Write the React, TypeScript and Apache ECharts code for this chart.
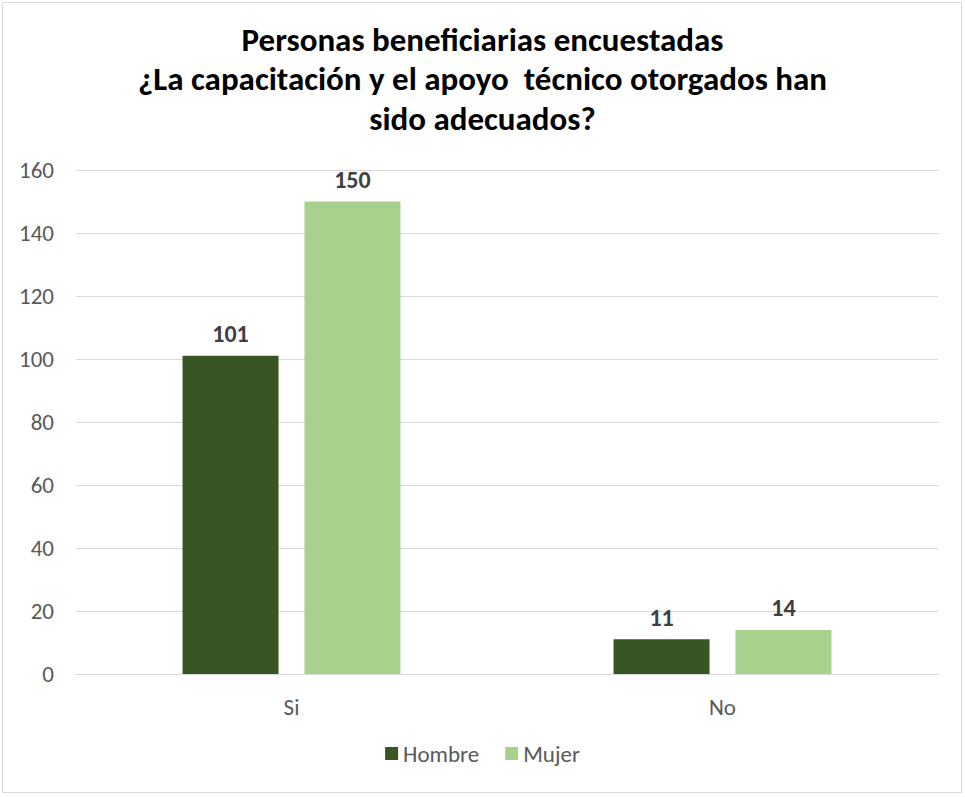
import React, { useEffect, useRef } from "react";
import * as echarts from "echarts";

const titleLines = [
  "Personas beneficiarias encuestadas",
  "¿La capacitación y el apoyo  técnico otorgados han",
  "sido adecuados?",
];
const categories = ["Si", "No"];
const hombre = [101, 11];
const mujer = [150, 14];
const seriesNames = ["Hombre", "Mujer"];
const colors = ["#375623", "#A9D18E"];

const FONT = "Carlito, Calibri, 'Liberation Sans Narrow', 'Open Sans', sans-serif";

export default function App() {
  const ref = useRef<HTMLDivElement>(null);
  useEffect(() => {
    if (!ref.current) return;
    const chart = echarts.init(ref.current, undefined, { renderer: "svg" });
    const label = {
      show: true,
      position: "top" as const,
      distance: 10,
      color: "#404040",
      fontWeight: "bold" as const,
      fontSize: 24,
      fontFamily: FONT,
    };
    chart.setOption({
      animation: false,
      backgroundColor: "#ffffff",
      title: {
        text: titleLines.join("\n"),
        left: "center",
        top: 15,
        textStyle: {
          fontFamily: FONT,
          fontWeight: "bold",
          fontSize: 33,
          lineHeight: 39.5,
          color: "#000000",
        },
      },
      graphic: [
        {
          type: "rect",
          shape: { x: 2.5, y: 2.5, width: 959, height: 790 },
          style: { fill: "none", stroke: "#d9d9d9", lineWidth: 1 },
          silent: true,
        },
      ],
      legend: {
        bottom: 27,
        left: "center",
        itemWidth: 13,
        itemHeight: 13,
        itemGap: 26,
        icon: "rect",
        textStyle: { fontFamily: FONT, fontSize: 23, color: "#595959" },
        data: seriesNames,
      },
      grid: { left: 76, right: 27, top: 170, bottom: 123, containLabel: false },
      xAxis: {
        type: "category",
        data: categories,
        axisLine: { lineStyle: { color: "#d9d9d9" } },
        axisTick: { show: false },
        axisLabel: { fontFamily: FONT, fontSize: 23, color: "#595959", margin: 21 },
      },
      yAxis: {
        type: "value",
        min: 0,
        max: 160,
        interval: 20,
        axisLine: { show: false },
        axisTick: { show: false },
        splitLine: { lineStyle: { color: "#d9d9d9" } },
        axisLabel: { fontFamily: FONT, fontSize: 23, color: "#595959", margin: 22 },
      },
      series: [
        {
          name: seriesNames[0],
          type: "bar",
          data: hombre,
          barWidth: 96,
          barGap: "27%",
          itemStyle: { color: colors[0] },
          label,
        },
        {
          name: seriesNames[1],
          type: "bar",
          data: mujer,
          barWidth: 96,
          barGap: "27%",
          itemStyle: { color: colors[1] },
          label,
        },
      ],
    });
    return () => chart.dispose();
  }, []);
  return (
    <div
      ref={ref}
      style={{ position: "fixed", left: 0, top: 0, width: 965, height: 797 }}
    />
  );
}
